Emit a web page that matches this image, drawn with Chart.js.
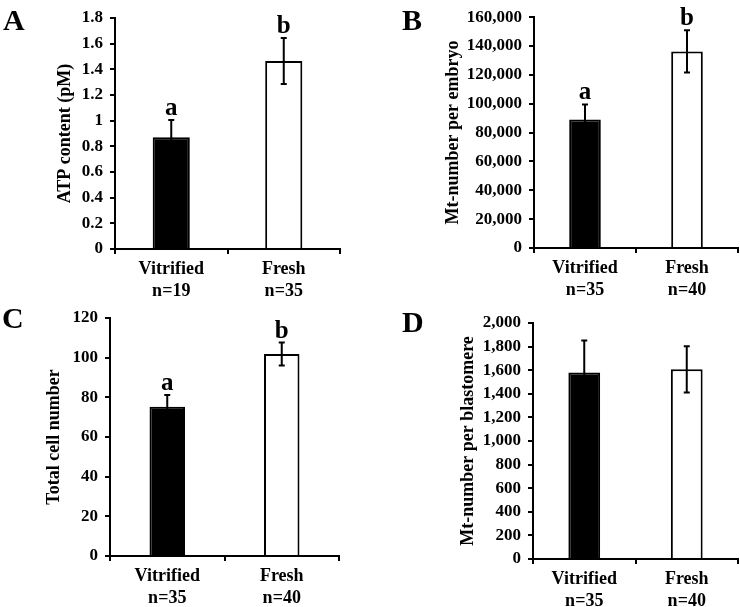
<!DOCTYPE html>
<html>
<head>
<meta charset="utf-8">
<script src="https://cdn.jsdelivr.net/npm/chart.js@4"></script>
<style>
  body { margin: 0; background: #fff; }
  #wrap { position: relative; width: 740px; height: 607px; }
  canvas { position: absolute; }
  .tag { position: absolute; font: bold 30px 'Liberation Serif', serif; line-height: 1; color: #000; }
</style>
</head>
<body>
<div id="wrap">
  <canvas id="chartA" width="370" height="300" style="left:0;top:0"></canvas>
  <canvas id="chartB" width="370" height="300" style="left:370px;top:0"></canvas>
  <canvas id="chartC" width="370" height="307" style="left:0;top:300px"></canvas>
  <canvas id="chartD" width="370" height="307" style="left:370px;top:300px"></canvas>
  <div class="tag" style="left:3px;top:5px">A</div>
  <div class="tag" style="left:402px;top:5px">B</div>
  <div class="tag" style="left:2px;top:303px">C</div>
  <div class="tag" style="left:402px;top:307px">D</div>
</div>
<script>
// groups and sample sizes
const groups = ['Vitrified', 'Fresh'];
const nA = ['n=19', 'n=35'];
const nBCD = ['n=35', 'n=40'];

// A - ATP content
const atpMean = [0.87, 1.465];
const atpErr = [0.135, 0.18];
const atpSig = ['a', 'b'];

// B - mt number per embryo
const mtEmbryoMean = [89000, 136300];
const mtEmbryoErr = [10500, 14700];
const mtEmbryoSig = ['a', 'b'];

// C - total cell number
const cellMean = [75.2, 101.8];
const cellErr = [6, 5.8];
const cellSig = ['a', 'b'];

// D - mt number per blastomere
const mtBlastMean = [1580, 1607];
const mtBlastErr = [272, 195];
const mtBlastSig = ['', ''];

const FONT = "'Liberation Serif', 'Times New Roman', serif";
Chart.defaults.font.family = FONT;
Chart.defaults.color = '#000';

// error bars + significance letters
const errorBars = {
  id: 'errorBars',
  afterDatasetsDraw(chart) {
    const ctx = chart.ctx;
    const y = chart.scales.y;
    const ds = chart.data.datasets[0];
    const meta = chart.getDatasetMeta(0);
    ctx.save();
    ctx.strokeStyle = '#000';
    ctx.lineWidth = 2;
    ctx.fillStyle = '#000';
    ctx.font = 'bold 25px ' + FONT;
    ctx.textAlign = 'center';
    ctx.textBaseline = 'alphabetic';
    meta.data.forEach((bar, i) => {
      const hi = y.getPixelForValue(ds.data[i] + ds.err[i]);
      const lo = y.getPixelForValue(ds.data[i] - ds.err[i]);
      ctx.beginPath();
      ctx.moveTo(bar.x, lo); ctx.lineTo(bar.x, hi);
      ctx.moveTo(bar.x - 3, hi); ctx.lineTo(bar.x + 3, hi);
      ctx.moveTo(bar.x - 3, lo); ctx.lineTo(bar.x + 3, lo);
      ctx.stroke();
      if (ds.sig[i]) ctx.fillText(ds.sig[i], bar.x, hi - 5);
    });
    ctx.restore();
  }
};

function makePanel(id, p) {
  return new Chart(document.getElementById(id), {
    type: 'bar',
    data: {
      labels: groups.map((g, i) => [g, p.n[i]]),
      datasets: [{
        data: p.mean,
        err: p.err,
        sig: p.sig,
        backgroundColor: ['#000', '#fff'],
        borderColor: '#000',
        borderWidth: 2,
        barPercentage: p.barPct,
        categoryPercentage: 1
      }]
    },
    options: {
      responsive: false,
      animation: false,
      layout: { padding: { top: p.top, right: p.right, left: 0, bottom: 0 } },
      plugins: { legend: { display: false }, tooltip: { enabled: false } },
      scales: {
        x: {
          afterFit: s => { s.height = p.xh; },
          grid: { display: true, drawOnChartArea: false, drawTicks: true, tickLength: 5, color: '#000', lineWidth: 2 },
          border: { display: true, color: '#000', width: 2 },
          ticks: { font: { size: 18, weight: 'bold' }, padding: 5, maxRotation: 0 }
        },
        y: {
          min: 0, max: p.max,
          afterFit: s => { s.width = p.yw; },
          grid: { display: true, drawOnChartArea: false, drawTicks: true, tickLength: 5, color: '#000', lineWidth: 2 },
          border: { display: true, color: '#000', width: 2 },
          ticks: { stepSize: p.step, font: { size: 17, weight: 'bold' }, padding: 7, callback: p.fmt },
          title: { display: true, text: p.title, font: { size: 18, weight: 'bold' }, padding: { top: p.titleX - 11, bottom: 0 } }
        }
      }
    },
    plugins: [errorBars]
  });
}

const dec1 = v => String(+v.toFixed(1));
const thou = v => v.toLocaleString('en-US');

makePanel('chartA', { n: nA, mean: atpMean, err: atpErr, sig: atpSig, max: 1.8, step: 0.2, fmt: dec1,
  title: 'ATP content (pM)', top: 18, right: 30, yw: 115, xh: 51, titleX: 66, barPct: 0.33 });
makePanel('chartB', { n: nBCD, mean: mtEmbryoMean, err: mtEmbryoErr, sig: mtEmbryoSig, max: 160000, step: 20000, fmt: thou,
  title: 'Mt-number per embryo', top: 8, right: 2, yw: 164, xh: 52, titleX: 84, barPct: 0.31 });
makePanel('chartC', { n: nBCD, mean: cellMean, err: cellErr, sig: cellSig, max: 120, step: 20, fmt: thou,
  title: 'Total cell number', top: 18, right: 31, yw: 110, xh: 51, titleX: 55, barPct: 0.31 });
makePanel('chartD', { n: nBCD, mean: mtBlastMean, err: mtBlastErr, sig: mtBlastSig, max: 2000, step: 200, fmt: thou,
  title: 'Mt-number per blastomere', top: 23, right: 2, yw: 163, xh: 48, titleX: 99, barPct: 0.31 });
</script>
</body>
</html>
